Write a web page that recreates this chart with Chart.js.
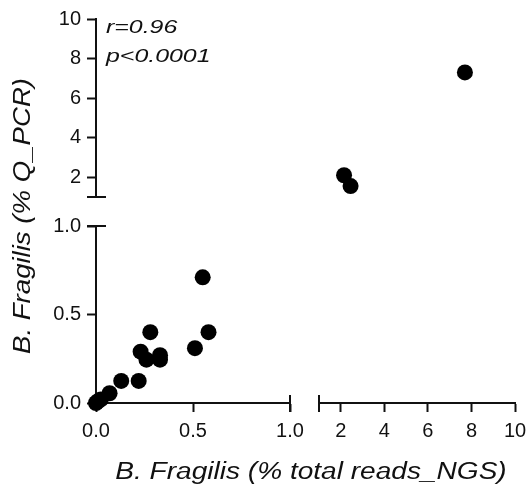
<!DOCTYPE html>
<html>
<head>
<meta charset="utf-8">
<script src="https://cdn.jsdelivr.net/npm/chart.js@4.4.1/dist/chart.umd.min.js"></script>
<style>
  html, body { margin: 0; padding: 0; background: #ffffff; }
  #wrap { position: relative; width: 529px; height: 492px; }
</style>
</head>
<body>
<div id="wrap"><canvas id="c" width="529" height="492"></canvas></div>
<script>
// B. fragilis abundance: NGS read share vs qPCR, on a broken (0–1 / 1–10) axis pair
const lowNGS   = [0.55, 0.58, 0.51, 0.28, 0.23, 0.26, 0.33, 0.33, 0.13, 0.22, 0.07, 0.025, 0.01, 0.0];
const lowQPCR  = [0.71, 0.40, 0.31, 0.40, 0.29, 0.245, 0.27, 0.245, 0.125, 0.125, 0.055, 0.02, 0.01, 0.0];
const highNGS  = [2.15, 2.45, 7.7];
const highQPCR = [2.1, 1.55, 7.3];
const lowTicks  = [0, 0.5, 1.0];
const highTicks = [2, 4, 6, 8, 10];
const xTitle = 'B. Fragilis (% total reads_NGS)';
const yTitle = 'B. Fragilis (% Q_PCR)';
const statLines = ['r=0.96', 'p<0.0001'];

// pixel frame of the two axis segments
const frame = {
  axisX: 96, axisY: 403,
  lowRight: 290, highLeft: 319, highRight: 515,
  lowTop: 226, highBottom: 197, highTop: 19
};

const ink = '#111111';
const family = '"Liberation Sans", Arial, Helvetica, sans-serif';

function axis(position, min, max, values, fmt, pad) {
  return {
    type: 'linear', position, min, max,
    afterBuildTicks: s => { s.ticks = values.map(v => ({ value: v })); },
    ticks: {
      callback: fmt, color: ink, padding: pad,
      font: { family, size: 20 },
      autoSkip: false, maxRotation: 0, minRotation: 0
    },
    grid: { drawOnChartArea: false, drawTicks: true, tickLength: 9, tickWidth: 2, tickColor: ink },
    border: { display: true, width: 2, color: ink }
  };
}

// put each axis segment where it belongs after Chart.js has laid out the boxes
const placeAxes = {
  id: 'placeAxes',
  afterLayout(chart) {
    const s = chart.scales;
    const put = (sc, l, t, r, b) => {
      sc.left = l; sc.top = t; sc.right = r; sc.bottom = b;
      sc.width = r - l; sc.height = b - t;
      sc.configure();
    };
    put(s.xLow,  frame.axisX,    frame.axisY,   frame.lowRight,  frame.axisY + 45);
    put(s.xHigh, frame.highLeft, frame.axisY,   frame.highRight, frame.axisY + 45);
    put(s.yLow,  frame.axisX - 70, frame.lowTop,  frame.axisX, frame.axisY);
    put(s.yHigh, frame.axisX - 70, frame.highTop, frame.axisX, frame.highBottom);
  }
};

// break caps at the inner ends of each segment
const breakCaps = {
  id: 'breakCaps',
  beforeDatasetsDraw(chart) {
    const { ctx, scales: s } = chart;
    ctx.save();
    ctx.strokeStyle = ink;
    ctx.lineWidth = 2;
    ctx.beginPath();
    const xa = s.xLow.getPixelForValue(1.0);
    const xb = s.xHigh.getPixelForValue(1);
    const y0 = s.xLow.top;
    [xa, xb].forEach(x => { ctx.moveTo(x, y0 - 8); ctx.lineTo(x, y0 + 9); });
    const ya = s.yLow.getPixelForValue(1.0);
    const yb = s.yHigh.getPixelForValue(1);
    const x0 = s.yLow.right;
    [ya, yb].forEach(y => { ctx.moveTo(x0 - 9, y); ctx.lineTo(x0 + 10, y); });
    ctx.stroke();
    ctx.restore();
  }
};

// wide-set text: drawn at its natural size, then widened along the text direction
function wideText(ctx, text, x, y, sx, align) {
  const w = ctx.measureText(text).width * sx;
  ctx.save();
  ctx.translate(align === 'center' ? x - w / 2 : x, y);
  ctx.scale(sx, 1);
  ctx.textAlign = 'left';
  ctx.fillText(text, 0, 0);
  ctx.restore();
}

// axis titles and the correlation statistics
const labels = {
  id: 'labels',
  afterDraw(chart) {
    const { ctx } = chart;
    ctx.save();
    ctx.fillStyle = ink;
    ctx.textBaseline = 'alphabetic';
    ctx.font = 'italic 23px ' + family;
    wideText(ctx, xTitle, 311, 479, 1.22, 'center');

    ctx.save();
    ctx.translate(30, 216);
    ctx.rotate(-Math.PI / 2);
    wideText(ctx, yTitle, 0, 0, 1.2, 'center');
    ctx.restore();

    ctx.font = 'italic 19px ' + family;
    wideText(ctx, statLines[0], 106, 33, 1.31, 'left');
    wideText(ctx, statLines[1], 106, 62, 1.31, 'left');
    ctx.restore();
  }
};

const point = { pointRadius: 8, pointHoverRadius: 8, pointBackgroundColor: '#000', pointBorderWidth: 0, backgroundColor: '#000', borderColor: '#000', showLine: false, clip: false };

new Chart(document.getElementById('c'), {
  type: 'scatter',
  data: {
    datasets: [
      Object.assign({ label: 'low', data: lowNGS.map((x, i) => ({ x, y: lowQPCR[i] })), xAxisID: 'xLow', yAxisID: 'yLow' }, point),
      Object.assign({ label: 'high', data: highNGS.map((x, i) => ({ x, y: highQPCR[i] })), xAxisID: 'xHigh', yAxisID: 'yHigh' }, point)
    ]
  },
  options: {
    responsive: false,
    animation: false,
    devicePixelRatio: 1,
    plugins: { legend: { display: false }, tooltip: { enabled: false } },
    events: [],
    scales: {
      xLow:  axis('bottom', 0, 1, lowTicks,  v => v.toFixed(1), 7),
      xHigh: axis('bottom', 1, 10, highTicks, v => String(v), 7),
      yLow:  axis('left', 0, 1, lowTicks,  v => v.toFixed(1), 6),
      yHigh: axis('left', 1, 10, highTicks, v => String(v), 6)
    }
  },
  plugins: [placeAxes, breakCaps, labels]
});
</script>
</body>
</html>
